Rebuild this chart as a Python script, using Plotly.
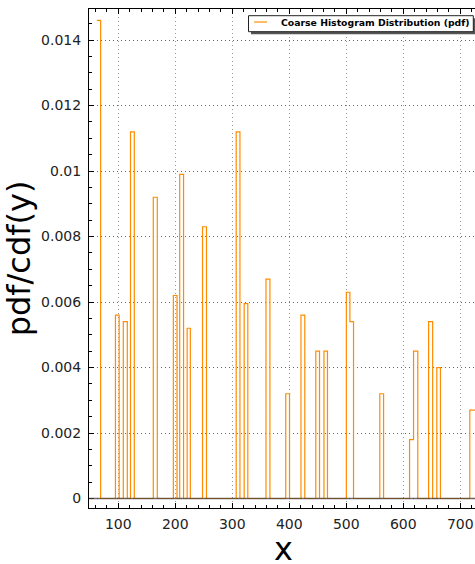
import plotly.graph_objects as go

# ---- data ----
# bin edges of the coarse histogram (step outline); intervals between bars have zero density
bin_edges = [62.4, 69.0, 95.0, 101.5, 108.8, 115.8, 121.4, 128.1, 161.4, 168.4,
             196.6, 203.0, 207.7, 214.5, 220.8, 226.4, 247.8, 254.7, 306.8, 313.4,
             320.8, 327.2, 359.1, 366.0, 393.8, 400.4, 420.5, 427.2, 446.5, 453.0,
             460.8, 467.0, 500.1, 506.3, 512.7, 558.8, 565.4, 611.0, 618.0, 625.4,
             644.4, 651.5, 658.8, 665.2, 716.7, 730.0]
pdf_values = [0.0146, 0, 0.0056, 0, 0.0054, 0, 0.0112, 0, 0.0092, 0,
              0.0062, 0, 0.0099, 0, 0.0052, 0, 0.0083, 0, 0.0112, 0,
              0.00595, 0, 0.0067, 0, 0.0032, 0, 0.0056, 0, 0.0045, 0,
              0.0045, 0, 0.0063, 0.0054, 0, 0.0032, 0, 0.0018, 0.0045, 0,
              0.0054, 0, 0.0040, 0, 0.0027]
x_tick_vals = [100, 200, 300, 400, 500, 600, 700]
y_tick_vals = [0, 0.002, 0.004, 0.006, 0.008, 0.010, 0.012, 0.014]
y_tick_text = ["0", "0.002", "0.004", "0.006", "0.008", "0.01", "0.012", "0.014"]
legend_label = "Coarse Histogram Distribution (pdf)"
x_title = "x"
y_title = "pdf/cdf(y)"

ORANGE = "#ff8c00"
FONT = "DejaVu Sans"

fig = go.Figure()
fig.add_trace(go.Scatter(
    x=bin_edges,
    y=pdf_values + [pdf_values[-1]],
    mode="lines",
    line=dict(shape="hv", color=ORANGE, width=1.2),
    name=legend_label,
    showlegend=False,
    hoverinfo="skip",
))

# figure geometry in window pixels (page margin removed by post_script below)
W, H = 475, 564
ML, MR, MT, MB = 89, 0, 9, 56
PW, PH = W - ML - MR, H - MT - MB


def px_x(p):  # window pixel -> paper x
    return (p - ML) / PW


def px_y(p):  # window pixel -> paper y
    return (H - MB - p) / PH


shapes = [
    # zero baseline
    dict(type="line", xref="paper", yref="y", x0=0, x1=1, y0=0, y1=0,
         line=dict(color="rgba(70,60,55,0.75)", width=1.5), layer="above"),
    # legend shadow
    dict(type="rect", xref="paper", yref="paper",
         x0=px_x(251), x1=px_x(476), y0=px_y(34.2), y1=px_y(18.2),
         fillcolor="#555555", line=dict(width=0), layer="above"),
    # legend box
    dict(type="rect", xref="paper", yref="paper",
         x0=px_x(248.5), x1=px_x(473.3), y0=px_y(31.7), y1=px_y(15.7),
         fillcolor="white", line=dict(color="#222222", width=1), layer="above"),
    # legend sample line
    dict(type="line", xref="paper", yref="paper",
         x0=px_x(254), x1=px_x(267), y0=px_y(22), y1=px_y(22),
         line=dict(color=ORANGE, width=1.2), layer="above"),
]

annotations = [
    dict(text="<b>" + legend_label + "</b>", xref="paper", yref="paper",
         x=px_x(278.5), y=px_y(22.5), xanchor="left", yanchor="middle",
         showarrow=False, font=dict(family=FONT, size=9.3, color="black")),
    # x-axis title
    dict(text=x_title, xref="paper", yref="paper",
         x=px_x(283.5), y=px_y(549), xanchor="center", yanchor="middle",
         showarrow=False, font=dict(family=FONT, size=32, color="black")),
]

axis_common = dict(
    showline=True, linecolor="black", linewidth=1,
    ticks="inside", ticklen=5, tickcolor="black", tickwidth=1,
    showgrid=True, griddash="1px,3px", gridwidth=1,
    zeroline=False, automargin=False,
    tickfont=dict(family=FONT, size=14, color="#222222"),
)

fig.update_layout(
    width=W, height=H,
    margin=dict(l=ML, r=MR, t=MT, b=MB, pad=0),
    plot_bgcolor="white", paper_bgcolor="white",
    showlegend=False,
    shapes=shapes,
    annotations=annotations,
    xaxis=dict(
        **axis_common,
        range=[48.6, 725.8],
        tickvals=x_tick_vals,
        mirror="allticks",
        gridcolor="#999999",
        minor=dict(ticks="inside", ticklen=3, dtick=20, tick0=0, tickcolor="black", showgrid=False),
        ticklabelstandoff=3,
    ),
    yaxis=dict(
        **axis_common,
        range=[-0.00029, 0.01495],
        tickvals=y_tick_vals,
        ticktext=y_tick_text,
        mirror=False,
        gridcolor="#666666",
        minor=dict(ticks="inside", ticklen=3, dtick=0.0005, tick0=0, tickcolor="black", showgrid=False),
        title=dict(text=y_title, font=dict(family=FONT, size=32, color="black"), standoff=0),
        ticklabelstandoff=4,
    ),
)

fig.write_html(
    "out.html",
    config={"displayModeBar": False},
    post_script="document.body.style.margin='0';document.body.style.overflow='hidden';",
)
